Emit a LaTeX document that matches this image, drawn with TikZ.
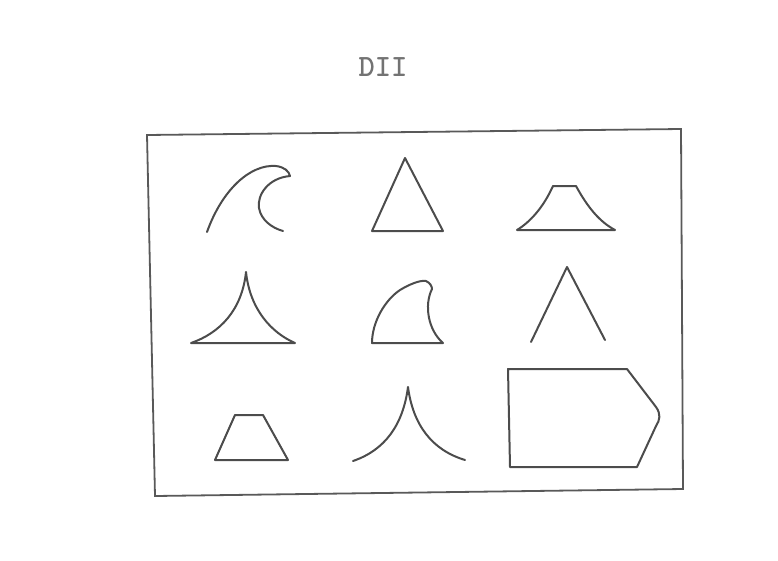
\documentclass[tikz,border=0pt]{standalone}
\usepackage{fontspec}
\usetikzlibrary{positioning}

\begin{document}
\begin{tikzpicture}[x=1pt,y=-1pt,
    shape line/.style={draw=black!70, line width=2pt, line join=round, line cap=round},
    frame line/.style={draw=black!65, line width=1.8pt}]
      \useasboundingbox (0,0) rectangle (778,560);
      % Title
      \node[font=\fontsize{31}{33}\selectfont\ttfamily\bfseries\addfontfeature{LetterSpace=18},
        text=black!55] (title) at (383,67) {DII};
      % The frame
      \draw[frame line] (147,135) -- (681,129) -- (683,489) -- (155,496) -- cycle;
      % Row 1
      \draw[shape line] (207,232) .. controls (222,190) and (250,164) .. (276,166)
        .. controls (284,167) and (289,171) .. (290,176)
        .. controls (268,178) and (257,195) .. (259,208)
        .. controls (261,220) and (272,228) .. (283,231);
      \draw[shape line] (405,158) -- (443,231) -- (372,231) -- cycle;
      \draw[shape line] (553,186) -- (576,186)
        .. controls (588,208) and (600,222) .. (615,230) -- (517,230)
        .. controls (530,222) and (543,208) .. cycle;
      % Row 2
      \draw[shape line] (246,272) .. controls (250,310) and (272,333) .. (295,343)
        -- (191,343) .. controls (220,333) and (242,310) .. cycle;
      \draw[shape line] (372,343) .. controls (372,322) and (385,300) .. (400,290)
        .. controls (410,284) and (420,280) .. (426,281)
        .. controls (430,283) and (432,286) .. (432,289)
        .. controls (424,305) and (428,330) .. (443,343) -- cycle;
      \draw[shape line] (531,342) -- (567,267) -- (605,340);
      % Row 3
      \draw[shape line] (235,415) -- (263,415) -- (288,460) -- (215,460) -- cycle;
      \draw[shape line] (353,461) .. controls (385,450) and (403,425) .. (408,387)
        .. controls (413,425) and (432,450) .. (465,460);
      \draw[shape line] (508,369) -- (627,369) -- (656,407)
        .. controls (661,414) and (660,420) .. (656,426)
        -- (637,467) -- (510,467) -- cycle;
    \end{tikzpicture}
\end{document}
